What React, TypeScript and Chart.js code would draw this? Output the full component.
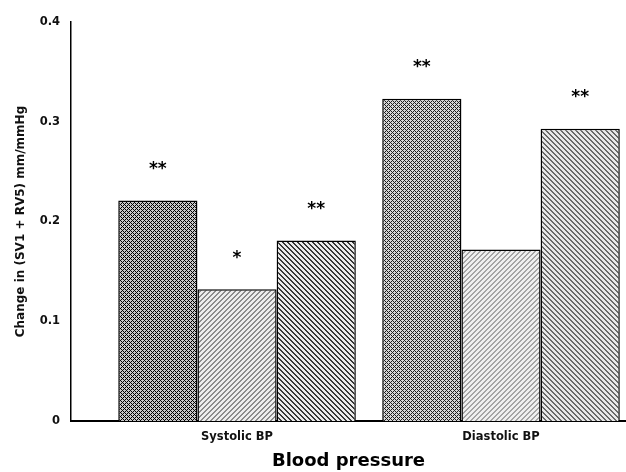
import React, { useEffect, useRef } from "react";
import { Chart, registerables } from "chart.js";

Chart.register(...registerables);

// ---- Data ----
const categories = ["Systolic BP", "Diastolic BP"];
const categoryPositions = [1, 2];
const groupAValues = [0.221, 0.323];
const groupBValues = [0.132, 0.172];
const groupCValues = [0.181, 0.293];
const groupAMarks = ["**", "**"];
const groupBMarks = ["*", ""];
const groupCMarks = ["**", "**"];
const yTickValues = [0, 0.1, 0.2, 0.3, 0.4];
const yTickLabels = ["0", "0.1", "0.2", "0.3", "0.4"];
const yAxisTitle = "Change in (SV1 + RV5) mm/mmHg";
const xAxisTitle = "Blood pressure";

type Kind = "cross" | "slash" | "back";

function makePattern(kind: Kind, period: number, ink: [number, number, number], bg: [number, number, number]) {
  const c = document.createElement("canvas");
  c.width = period;
  c.height = period;
  const ctx = c.getContext("2d")!;
  const img = ctx.createImageData(period, period);
  for (let y = 0; y < period; y++) {
    for (let x = 0; x < period; x++) {
      const a = (((x - y) % period) + period) % period;
      const b = (x + y) % period;
      let on = false;
      if (kind === "cross") on = a === 0 || b === 0;
      if (kind === "slash") on = b === 0 || b === 1;
      if (kind === "back") on = a === 0 || a === 1;
      const col = on ? ink : bg;
      const i = (y * period + x) * 4;
      img.data[i] = col[0];
      img.data[i + 1] = col[1];
      img.data[i + 2] = col[2];
      img.data[i + 3] = 255;
    }
  }
  ctx.putImageData(img, 0, 0);
  return ctx.createPattern(c, "repeat")!;
}

const markPlugin = {
  id: "sigMarks",
  afterDatasetsDraw(chart: any) {
    const ctx = chart.ctx;
    const marks = [groupAMarks, groupBMarks, groupCMarks];
    const size = 17;
    ctx.save();
    ctx.font = `bold ${size}px "DejaVu Sans"`;
    ctx.fillStyle = "#000";
    ctx.textAlign = "center";
    ctx.textBaseline = "alphabetic";
    marks.forEach((list, di) => {
      const meta = chart.getDatasetMeta(di);
      meta.data.forEach((el: any, i: number) => {
        const t = list[i];
        if (!t) return;
        ctx.fillText(t, el.x, el.y - 35 + size * 0.5);
      });
    });
    ctx.restore();
  },
};

export default function App() {
  const ref = useRef<HTMLCanvasElement | null>(null);

  useEffect(() => {
    if (!ref.current) return;
    Chart.defaults.font.family = '"DejaVu Sans", sans-serif';
    Chart.defaults.color = "#000";

    const pA1 = makePattern("cross", 4, [0, 0, 0], [200, 200, 200]);
    const pA2 = makePattern("cross", 4, [30, 30, 30], [215, 215, 215]);
    const pB1 = makePattern("slash", 5, [140, 140, 140], [238, 238, 238]);
    const pB2 = makePattern("slash", 5, [165, 165, 165], [240, 240, 240]);
    const pC1 = makePattern("back", 5, [55, 55, 55], [235, 235, 235]);
    const pC2 = makePattern("back", 5, [105, 105, 105], [232, 232, 232]);

    const toPts = (vals: number[]) => vals.map((v, i) => ({ x: categoryPositions[i], y: v }));

    const common = {
      borderColor: "#000",
      borderWidth: { top: 1.5, left: 1.5, right: 1.5, bottom: 0 },
      borderSkipped: "start",
      categoryPercentage: 0.9,
      barPercentage: 1.0,
    };

    const chart = new Chart(ref.current, {
      type: "bar",
      data: {
        datasets: [
          { ...common, label: "A", data: toPts(groupAValues), backgroundColor: [pA1, pA2] },
          { ...common, label: "B", data: toPts(groupBValues), backgroundColor: [pB1, pB2] },
          { ...common, label: "C", data: toPts(groupCValues), backgroundColor: [pC1, pC2] },
        ] as any,
      },
      options: {
        animation: false,
        responsive: false,
        maintainAspectRatio: false,
        layout: { padding: { top: 22, left: 0, right: 0, bottom: 0 } },
        plugins: { legend: { display: false }, tooltip: { enabled: false }, title: { display: false } },
        scales: {
          x: {
            type: "linear",
            min: 0.371,
            max: 2.4735,
            offset: false,
            bounds: "data",
            grid: { display: false, drawTicks: false, offset: false },
            border: { display: true, color: "#000", width: 2 },
            afterBuildTicks: (scale: any) => {
              scale.ticks = categoryPositions.map((v) => ({ value: v }));
            },
            afterFit: (scale: any) => {
              scale.height = 51;
            },
            ticks: {
              autoSkip: false,
              maxRotation: 0,
              padding: 9,
              font: { size: 11.5, weight: "bold" },
              color: "#111",
              callback: (v: any) => {
                const i = categoryPositions.indexOf(Number(v));
                return i >= 0 ? categories[i] : "";
              },
            },
            title: {
              display: true,
              text: xAxisTitle,
              font: { size: 18, weight: "bold" },
              color: "#000",
              padding: { top: 0, bottom: 0 },
            },
          },
          y: {
            type: "linear",
            min: 0,
            max: 0.4,
            grid: { display: false, drawTicks: false },
            border: { display: true, color: "#000", width: 1.5 },
            afterBuildTicks: (scale: any) => {
              scale.ticks = yTickValues.map((v) => ({ value: v }));
            },
            afterFit: (scale: any) => {
              scale.width = 71;
            },
            ticks: {
              padding: 11,
              font: { size: 11.5, weight: "bold" },
              color: "#111",
              callback: (v: any) => {
                const i = yTickValues.findIndex((t) => Math.abs(t - Number(v)) < 1e-9);
                return i >= 0 ? yTickLabels[i] : "";
              },
            },
            title: {
              display: true,
              text: yAxisTitle,
              font: { size: 12, weight: "bold" },
              color: "#111",
              padding: { top: 14, bottom: 0 },
            },
          },
        },
      } as any,
      plugins: [markPlugin],
    });
    return () => chart.destroy();
  }, []);

  return (
    <div style={{ position: "fixed", left: 0, top: 0, width: 626, height: 472, background: "#fff" }}>
      <canvas ref={ref} width={626} height={472} style={{ width: 626, height: 472, display: "block" }} />
    </div>
  );
}
